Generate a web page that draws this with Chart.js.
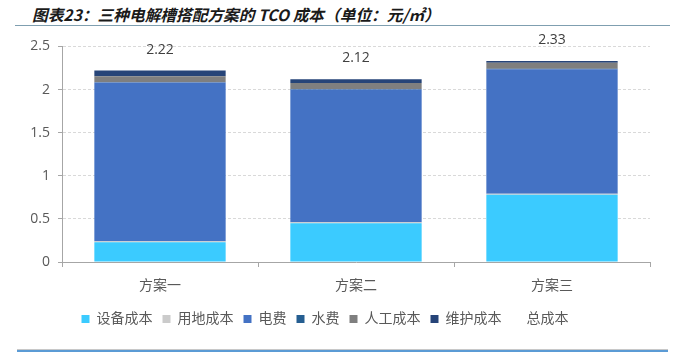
<!DOCTYPE html>
<html>
<head>
<meta charset="utf-8">
<script src="https://cdn.jsdelivr.net/npm/chart.js@4/dist/chart.umd.min.js"></script>
<style>
  body { margin: 0; background: #fff; width: 674px; height: 353px; position: relative; overflow: hidden; }
  #title { position: absolute; left: 32px; top: 3px; font: italic bold 15.7px "Noto Sans CJK SC", sans-serif; color: #1a1a1a; white-space: nowrap; }
  #titleLine { position: absolute; left: 15px; top: 25px; width: 655px; height: 1px; background: #7f9fb0; }
  #wrap { position: absolute; left: 0; top: 30px; width: 674px; height: 315px; }
  #bottomLine { position: absolute; left: 17px; top: 349px; width: 651px; height: 1px; background: #c8c8c8; }
  #bottomLine2 { position: absolute; left: 17px; top: 350px; width: 651px; height: 2px; background: #5b9bd5; }
</style>
</head>
<body>
<div id="title">图表23：三种电解槽搭配方案的 TCO 成本（单位：元/㎡）</div>
<div id="titleLine"></div>
<div id="wrap"><canvas id="myChart" width="674" height="315"></canvas></div>
<div id="bottomLine"></div>
<div id="bottomLine2"></div>
<script>
const categories = ['方案一', '方案二', '方案三'];
const equipment = [0.23, 0.45, 0.78];   // 设备成本
const land = [0.01, 0.01, 0.01];        // 用地成本
const power = [1.84, 1.54, 1.445];      // 电费
const water = [0.005, 0.005, 0.005];    // 水费
const labor = [0.07, 0.07, 0.07];       // 人工成本
const maintain = [0.065, 0.045, 0.02];  // 维护成本
const totals = [2.22, 2.12, 2.33];      // 总成本
const yTicks = [0, 0.5, 1, 1.5, 2, 2.5];

const fontFamily = "'Open Sans', 'Noto Sans CJK SC', sans-serif";

function barSet(label, data, color) {
  return {
    type: 'bar',
    label: label,
    data: data,
    backgroundColor: color,
    borderWidth: 0,
    barPercentage: 0.67,
    categoryPercentage: 1,
  };
}

// draw the totals above each column
const totalLabels = {
  id: 'totalLabels',
  afterDatasetsDraw(chart) {
    const ctx = chart.ctx;
    const meta = chart.getDatasetMeta(6);
    ctx.save();
    ctx.font = '14px ' + fontFamily;
    ctx.fillStyle = '#404040';
    ctx.textAlign = 'center';
    ctx.textBaseline = 'middle';
    meta.data.forEach((pt, i) => {
      ctx.fillText(totals[i].toFixed(2), pt.x, pt.y - 21);
    });
    ctx.restore();
  }
};

const chart = new Chart(document.getElementById('myChart'), {
  data: {
    labels: categories,
    datasets: [
      barSet('设备成本', equipment, '#3bcbff'),
      barSet('用地成本', land, '#cbcbcb'),
      barSet('电费', power, '#4472c4'),
      barSet('水费', water, '#255e91'),
      barSet('人工成本', labor, '#7f7f7f'),
      barSet('维护成本', maintain, '#264478'),
      {
        type: 'line',
        label: '总成本',
        data: totals,
        showLine: false,
        pointRadius: 0,
        backgroundColor: 'rgba(0,0,0,0)',
        borderColor: 'rgba(0,0,0,0)',
      },
    ],
  },
  options: {
    responsive: false,
    animation: false,
    layout: { padding: { left: 0, right: 24, top: 15, bottom: 9 } },
    plugins: {
      legend: {
        position: 'bottom',
        labels: {
          boxWidth: 8,
          boxHeight: 8,
          padding: 10,
          color: '#595959',
          font: { size: 14, family: fontFamily },
        },
      },
      tooltip: { enabled: false },
    },
    scales: {
      x: {
        stacked: true,
        grid: { offset: true, drawOnChartArea: false, color: '#a6a6a6', tickLength: 5 },
        border: { color: '#a6a6a6' },
        ticks: { color: '#595959', padding: 11, font: { size: 14, family: fontFamily } },
        afterFit(scale) { scale.height = 40; },
      },
      y: {
        stacked: true,
        min: 0,
        max: 2.5,
        afterBuildTicks(scale) { scale.ticks = yTicks.map(v => ({ value: v })); },
        grid: { color: '#d9d9d9', tickColor: '#a6a6a6', tickLength: 4 },
        border: { color: '#a6a6a6', dash: [3, 2] },
        ticks: {
          color: '#595959',
          padding: 8,
          font: { size: 14, family: fontFamily },
          callback: (v) => String(v),
        },
        afterFit(scale) { scale.width = 62; },
      },
    },
  },
  plugins: [totalLabels],
});
</script>
</body>
</html>
